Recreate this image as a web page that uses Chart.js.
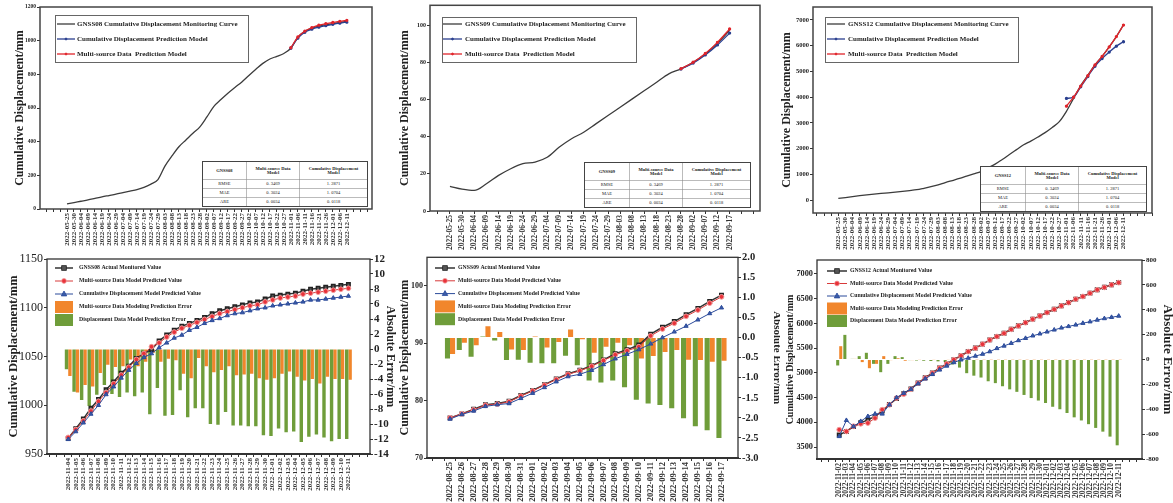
<!DOCTYPE html>
<html>
<head>
<meta charset="utf-8">
<script src="https://cdn.jsdelivr.net/npm/chart.js@4.4.0/dist/chart.umd.min.js"></script>
<style>
  body { margin: 0; background: #fff; }
  #page { position: relative; width: 1173px; height: 503px; overflow: hidden; background: #fff; }
  canvas { position: absolute; }
  .clip { position: absolute; overflow: hidden; }
  .stat { position: absolute; border-collapse: collapse; transform: scale(0.5); transform-origin: 0 0;
          font-family: "Liberation Serif", serif; color: #222; background: #fff; border: 2px solid #444; }
  .stat td { border: 1px solid #777; text-align: center; font-size: 9px; padding: 0; line-height: 1.05; }
  .stat tr.h td { font-weight: bold; height: 34px; }
  .stat tr.r td { height: 17px; }
</style>
</head>
<body>
<div id="page">
  <canvas id="c1" width="390" height="250" style="left:0;top:0"></canvas>
  <canvas id="c2" width="390" height="250" style="left:390px;top:0"></canvas>
  <canvas id="c3" width="393" height="250" style="left:780px;top:0"></canvas>
  <canvas id="c4" width="400" height="253" style="left:0;top:250px"></canvas>
  <div class="clip" style="left:390px;top:250px;width:390px;height:253px">
    <canvas id="c5" width="395" height="253" style="left:0;top:0"></canvas>
  </div>
  <canvas id="c6" width="395" height="253" style="left:780px;top:250px"></canvas>
</div>
<script>
// ---- dates (x categories) ----
const topDays = ["05-25","05-30","06-04","06-09","06-14","06-19","06-24","06-29","07-04","07-09",
  "07-14","07-19","07-24","07-29","08-03","08-08","08-13","08-18","08-23","08-28",
  "09-02","09-07","09-12","09-17","09-22","09-27","10-02","10-07","10-12","10-17",
  "10-22","10-27","11-01","11-06","11-11","11-16","11-21","11-26","12-01","12-06","12-11"];
const p4Days = ["11-04","11-05","11-06","11-07","11-08","11-09","11-10","11-11","11-12","11-13",
  "11-14","11-15","11-16","11-17","11-18","11-19","11-20","11-21","11-22","11-23",
  "11-24","11-25","11-26","11-27","11-28","11-29","11-30","12-01","12-02","12-03",
  "12-04","12-05","12-06","12-07","12-08","12-09","12-10","12-11"];
const p5Days = ["08-25","08-26","08-27","08-28","08-29","08-30","08-31","09-01","09-02","09-03",
  "09-04","09-05","09-06","09-07","09-08","09-09","09-10","09-11","09-12","09-13",
  "09-14","09-15","09-16","09-17"];
const p6Days = ["11-02","11-03","11-04","11-05","11-06","11-07","11-08","11-09","11-10","11-11",
  "11-12","11-13","11-14","11-15","11-16","11-17","11-18","11-19","11-20","11-21",
  "11-22","11-23","11-24","11-25","11-26","11-27","11-28","11-29","11-30","12-01",
  "12-02","12-03","12-04","12-05","12-06","12-07","12-08","12-09","12-10","12-11"];
const withYear = d => "2022-" + d;
const p1Dates = topDays.map(withYear);
const p2Dates = topDays.slice(0, 24).map(withYear);
const p3Dates = topDays.map(withYear);
const p4Dates = p4Days.map(withYear);
const p5Dates = p5Days.map(withYear);
const p6Dates = p6Days.map(withYear);

// ---- top row: monitoring curves ----
const p1Actual = [30,38,46,54,63,72,80,88,97,106,115,128,148,175,255,315,370,410,450,488,
  547,610,650,688,722,755,793,830,865,891,907,924,955,1020,1055,1075,1087,1094,1101,1108,1115];
const p1PredStart = 32;
const p1Red = [958,1022,1057,1078,1092,1101,1108,1115,1121];
const p1Blue = [955,1015,1050,1068,1080,1089,1097,1104,1110];

const p2Actual = [13.3,11.8,11.1,14.7,19.2,22.8,25.5,26.4,29.0,34.5,39.0,42.5,47.0,51.5,56.0,
  60.5,65.0,69.5,74.0,76.7,80.2,84.7,90.5,97.5];
const p2PredStart = 19;
const p2Red = [76.8,80.3,85.0,91.0,98.2];
const p2Blue = [76.6,79.8,84.2,89.6,96.0];

const p3Actual = [65,100,140,175,205,235,260,285,310,340,370,405,460,520,590,680,760,840,930,1020,
  1110,1260,1400,1580,1770,1960,2150,2290,2450,2620,2820,3050,3450,3950,4450,4850,5250,5580,5950,6350,6800];
const p3PredStart = 32;
const p3Red = [3650,4000,4430,4830,5250,5580,5950,6350,6800];
const p3Blue = [3950,4000,4400,4800,5200,5500,5750,5980,6150];

// ---- bottom row: prediction periods ----
const p4Actual = [966,976,986,997,1006,1016,1024,1033,1040,1048,1053,1057,1066,1072,1077,1081,1084,1087,1090,1094,
  1097,1099,1101,1103,1105,1106,1109,1112,1113,1114,1115,1117,1119,1120,1121,1122,1123,1124];
const p4Red = [967,975,984,994,1004,1013,1022,1031,1039,1047,1053,1060,1064,1070,1075,1079,1082,1085,1088,1091,
  1094,1096,1098,1100,1102,1103,1106,1108,1110,1111,1112,1114,1115,1116,1117,1118,1119,1120];
const p4Blue = [965,973,982,991,1000,1011,1019,1028,1036,1043,1049,1053,1059,1064,1069,1072,1077,1080,1084,1087,
  1089,1092,1094,1095,1097,1099,1100,1102,1103,1104,1105,1106,1108,1108,1109,1110,1111,1112];
const p4ErrMulti = [-3.6,-5.8,-4.8,-5.0,-3.2,-2.1,-2.4,-2.3,-1.4,-2.3,-1.7,-0.5,-1.7,-1.3,-1.5,-3.3,-3.9,-1.2,-2.3,-3.1,
  -2.8,-2.3,-3.5,-3.4,-3.3,-3.9,-4.1,-3.9,-3.3,-3.0,-3.7,-4.2,-4.0,-4.6,-3.7,-4.0,-4.0,-4.1];
const p4ErrDisp = [-2.7,-5.7,-6.8,-7.6,-6.1,-4.8,-6.0,-6.4,-5.8,-6.3,-5.8,-8.7,-5.2,-8.9,-8.8,-5.5,-9.1,-7.9,-7.9,-10.0,
  -10.1,-8.4,-10.2,-10.2,-10.3,-10.3,-11.5,-11.6,-10.6,-11.1,-11.0,-12.4,-11.7,-11.4,-11.8,-12.3,-12.0,-12.0];

const p5Actual = [77.0,77.7,78.5,79.3,79.5,79.9,80.9,81.8,82.8,83.8,84.7,85.3,86.1,87.1,88.2,88.9,89.7,91.6,92.8,93.8,95.0,96.1,97.3,98.4];
const p5Red = [77.0,77.7,78.4,79.2,79.4,79.8,80.8,81.7,82.7,83.7,84.6,85.2,86.0,87.0,88.0,88.7,89.4,91.3,92.5,93.5,94.7,95.8,97.0,98.1];
const p5Blue = [76.8,77.6,78.2,79.0,79.3,79.5,80.4,81.3,82.3,83.3,84.2,84.6,85.3,86.3,87.3,88.1,88.9,89.9,91.0,92.0,93.0,94.1,95.2,96.2];
const p5ErrMulti = [-0.41,-0.13,-0.19,0.28,0.14,-0.30,-0.31,0.03,-0.25,-0.11,0.20,-0.04,-0.38,-0.23,-0.13,-0.19,-0.52,-0.46,-0.36,-0.31,-0.55,-0.56,-0.60,-0.58];
const p5ErrDisp = [-0.52,-0.31,-0.48,0.03,-0.07,-0.56,-0.55,-0.63,-0.64,-0.64,-0.45,-0.69,-1.07,-1.12,-1.07,-1.24,-1.55,-1.64,-1.68,-1.76,-2.01,-2.21,-2.31,-2.50];

const p6Actual = [3745,3815,3915,3990,4050,4120,4230,4360,4480,4580,4675,4795,4900,4998,5098,5183,5268,5347,5432,5502,
  5582,5667,5737,5802,5882,5952,6017,6087,6152,6222,6287,6357,6422,6492,6547,6612,6682,6732,6782,6827];
const p6Red = [3850,3815,3920,3970,3985,4085,4255,4355,4490,4570,4670,4792,4897,4996,5095,5181,5266,5345,5430,5500,
  5580,5665,5735,5800,5880,5950,6015,6085,6150,6220,6285,6355,6420,6490,6545,6610,6680,6730,6780,6825];
const p6Blue = [3715,4040,3915,4020,4120,4170,4170,4355,4500,4590,4670,4780,4880,4970,5060,5140,5210,5265,5300,5340,
  5380,5430,5495,5545,5600,5655,5700,5750,5790,5830,5870,5910,5940,5970,6005,6035,6070,6100,6125,6150];
const p6ErrMulti = [107,0,5,-21,-70,-35,27,-5,10,-10,-5,-3,-4,-3,-4,-3,-3,-2,-2,-2,
  -2,-2,-2,-2,-2,-2,-2,-2,-2,-2,-2,-2,-2,-2,-2,-2,-2,-2,-2,-2];
const p6ErrDisp = [-48,198,5,27,54,-35,-102,-35,27,19,-5,-8,-10,-12,-15,-20,-40,-65,-110,-130,
  -145,-175,-190,-215,-240,-260,-285,-310,-330,-350,-380,-400,-430,-465,-490,-520,-550,-580,-620,-690];

// ---- tick values ----
const p1YTicks = [0,200,400,600,800,1000,1200];
const p2YTicks = [0,20,40,60,80,100];
const p3YTicks = [0,1000,2000,3000,4000,5000,6000,7000];
const p4YTicks = [950,1000,1050,1100,1150];
const p4ErrTicks = [-14,-12,-10,-8,-6,-4,-2,0,2,4,6,8,10,12];
const p5YTicks = [70,80,90,100];
const p5ErrTicks = [-3,-2.5,-2,-1.5,-1,-0.5,0,0.5,1,1.5,2];
const p6YTicks = [3500,4000,4500,5000,5500,6000,6500,7000];
const p6ErrTicks = [-800,-600,-400,-200,0,200,400,600,800];

// ---- error tables ----
const statHead = ["Multi-source Data<br>Model", "Cumulative Displacement<br>Model"];
const statRows = [["RMSE","0. 3469","1. 2871"],["MAE","0. 3024","1. 0704"],["ARE","0. 0034","0. 0118"]];

const SERIF = '"Liberation Serif", "Times New Roman", serif';
const INK = '#222';
Chart.defaults.font.family = SERIF;
Chart.defaults.color = INK;

function pts(values, start) {
  return values.map((v, i) => ({ x: i + (start || 0), y: v }));
}

function drawMarker(ctx, style, x, y, r, fill, stroke) {
  ctx.beginPath();
  if (style === 'rect') ctx.rect(x - r, y - r, 2 * r, 2 * r);
  else if (style === 'triangle') {
    ctx.moveTo(x, y - r * 1.25); ctx.lineTo(x + r * 1.15, y + r * 0.8); ctx.lineTo(x - r * 1.15, y + r * 0.8); ctx.closePath();
  } else ctx.arc(x, y, r, 0, Math.PI * 2);
  ctx.fillStyle = fill; ctx.fill();
  ctx.lineWidth = 0.8; ctx.strokeStyle = stroke; ctx.stroke();
}

// box round the plot area
const framePlugin = {
  id: 'frame',
  afterDraw(chart, args, o) {
    const { left, top, right, bottom } = chart.chartArea;
    const ctx = chart.ctx;
    ctx.save();
    ctx.strokeStyle = o.color; ctx.lineWidth = o.width;
    ctx.strokeRect(left, top, right - left, bottom - top);
    if (o.bottomWidth) {
      ctx.lineWidth = o.bottomWidth;
      ctx.beginPath(); ctx.moveTo(left - 1, bottom); ctx.lineTo(right + 1, bottom); ctx.stroke();
    }
    ctx.restore();
  }
};

// legend drawn inside the plot, like the origin figures
const legendPlugin = {
  id: 'boxLegend',
  afterDraw(chart, args, o) {
    const ctx = chart.ctx;
    ctx.save();
    if (o.box) {
      ctx.strokeStyle = '#666'; ctx.lineWidth = 1;
      ctx.strokeRect(o.box[0] + 0.5, o.box[1] + 0.5, o.box[2], o.box[3]);
    }
    ctx.font = o.font; ctx.textBaseline = 'middle'; ctx.textAlign = 'left';
    chart.data.datasets.forEach((ds, k) => {
      const y = o.y + k * o.gap;
      if (ds.type === 'bar') {
        ctx.fillStyle = ds.backgroundColor;
        ctx.fillRect(o.x, y - o.barH / 2, o.w, o.barH);
      } else {
        ctx.strokeStyle = ds.borderColor; ctx.lineWidth = ds.borderWidth;
        ctx.beginPath(); ctx.moveTo(o.x, y); ctx.lineTo(o.x + o.w, y); ctx.stroke();
        if (ds.pointRadius > 0)
          drawMarker(ctx, ds.pointStyle, o.x + o.w / 2, y, o.markR || ds.pointRadius, ds.pointBackgroundColor, ds.pointBorderColor);
      }
      ctx.fillStyle = INK;
      ctx.fillText(ds.label, o.x + o.w + o.textGap, y);
    });
    ctx.restore();
  }
};

function xAxis(min, max, labels, size, h) {
  return {
    type: 'linear', min, max, offset: false,
    afterBuildTicks: s => { s.ticks = []; for (let v = Math.ceil(min); v <= max; v++) s.ticks.push({ value: v }); },
    afterFit: s => { s.height = h; },
    grid: { drawOnChartArea: false, tickLength: 3, color: '#333' },
    border: { display: false },
    ticks: { autoSkip: false, minRotation: 90, maxRotation: 90, padding: 1,
      font: { size, weight: 'bold' }, color: '#333', callback: v => labels[v] || '' },
  };
}

function yAxis(position, min, max, tickVals, w, tick, title) {
  return {
    type: 'linear', position, min, max,
    afterBuildTicks: s => { s.ticks = tickVals.map(value => ({ value })); },
    afterFit: s => { s.width = w; },
    grid: { drawOnChartArea: false, tickLength: 3, color: '#333' },
    border: { display: false },
    ticks: { autoSkip: false, padding: 1, font: { size: tick.size, weight: tick.weight }, color: INK,
      callback: v => v.toFixed(tick.dec || 0) },
    title: { display: true, text: title.text, color: INK, font: { size: title.size, weight: 'bold' },
      padding: { top: title.pad, bottom: 0 } },
  };
}

function makeChart(id, datasets, scales, padding, legend, frame) {
  return new Chart(document.getElementById(id), {
    type: 'line',
    data: { datasets },
    options: {
      responsive: false, animation: false, events: [],
      layout: { padding },
      scales,
      plugins: { legend: { display: false }, tooltip: { enabled: false }, boxLegend: legend, frame },
    },
    plugins: [framePlugin, legendPlugin],
  });
}

const GRAY = '#3c3c3c', BLUE = '#2a3f8f', RED = '#e0252b', ORANGE = '#f1862c', GREEN = '#6f9d3a';

function topSets(station, actual, red, blue, start) {
  return [
    { label: station + ' Cumulative Displacement Monitoring Curve', data: pts(actual), borderColor: GRAY,
      borderWidth: 1.3, pointRadius: 0, cubicInterpolationMode: 'monotone', order: 3 },
    { label: 'Cumulative Displacement Prediction Model', data: pts(blue, start), borderColor: BLUE,
      borderWidth: 1.3, pointRadius: 1, pointStyle: 'circle', pointBackgroundColor: BLUE, pointBorderColor: BLUE,
      cubicInterpolationMode: 'monotone', order: 2 },
    { label: 'Multi-source Data  Prediction Model', data: pts(red, start), borderColor: RED,
      borderWidth: 1.3, pointRadius: 1, pointStyle: 'circle', pointBackgroundColor: RED, pointBorderColor: RED,
      cubicInterpolationMode: 'monotone', order: 1 },
  ];
}

function bottomSets(station, actual, red, blue, errMulti, errDisp, barPct) {
  return [
    { label: station + ' Actual Monitored Value', data: pts(actual), borderColor: '#333', borderWidth: 1.5,
      pointRadius: 2.4, pointStyle: 'rect', pointBackgroundColor: '#555', pointBorderColor: '#222', order: 2, yAxisID: 'y' },
    { label: 'Multi-source Data Model Predicted Value', data: pts(red), borderColor: '#d83a3a', borderWidth: 1,
      pointRadius: 2.4, pointStyle: 'circle', pointBackgroundColor: '#e8323a', pointBorderColor: '#f29a9a', order: 1, yAxisID: 'y' },
    { label: 'Cumulative Displacement Model Predicted Value', data: pts(blue), borderColor: '#2b4a9a', borderWidth: 1,
      pointRadius: 2.4, pointStyle: 'triangle', pointBackgroundColor: '#3a5ca8', pointBorderColor: '#2b4a9a', order: 0, yAxisID: 'y' },
    { type: 'bar', label: 'Multi-source Data Modeling Prediction Error', data: pts(errMulti), backgroundColor: ORANGE,
      categoryPercentage: barPct, barPercentage: 1, order: 5, yAxisID: 'y1' },
    { type: 'bar', label: 'Displacement Data Model Prediction Error', data: pts(errDisp), backgroundColor: GREEN,
      categoryPercentage: barPct, barPercentage: 1, order: 4, yAxisID: 'y1' },
  ];
}

const CUM = 'Cumulative Displacement/mm', ERR = 'Absolute Error/mm';
const topLegendFont = 'bold 7px ' + SERIF, botLegendFont = 'bold 5.8px ' + SERIF;
const topFrame = { color: '#444', width: 1.5 };
const botFrame = { color: '#333', width: 1.3, bottomWidth: 2 };

// ---- top row ----
makeChart('c1', topSets('GNSS08', p1Actual, p1Red, p1Blue, p1PredStart), {
  x: xAxis(-3.86, 43.6, p1Dates, 7, 41),
  y: yAxis('left', 0, 1200, p1YTicks, 40, { size: 5.5, weight: 'bold' }, { text: CUM, size: 12, pad: 12.8 }),
}, { top: 7, right: 18, left: 0, bottom: 0 },
{ box: [55, 15, 193, 47], x: 57, y: 24, gap: 15, w: 18, textGap: 2, font: topLegendFont }, topFrame);

makeChart('c2', topSets('GNSS09', p2Actual, p2Red, p2Blue, p2PredStart), {
  x: xAxis(-1.64, 25.5, p2Dates, 7.5, 39),
  y: yAxis('left', 0, 111, p2YTicks, 40, { size: 6, weight: 'bold' }, { text: CUM, size: 12, pad: 7.8 }),
}, { top: 5, right: 20, left: 0, bottom: 0 },
{ box: [52, 17, 194, 45], x: 53, y: 24, gap: 15, w: 19, textGap: 3, font: topLegendFont }, topFrame);

makeChart('c3', topSets('GNSS12', p3Actual, p3Red, p3Blue, p3PredStart), {
  x: xAxis(-3.55, 44.0, p3Dates, 7, 37),
  y: yAxis('left', -500, 7500, p3YTicks, 33, { size: 6.5, weight: 'bold' }, { text: CUM, size: 12, pad: 0 }),
}, { top: 7, right: 21, left: 0, bottom: 0 },
{ box: [45, 17, 193, 45], x: 47, y: 24, gap: 15, w: 18, textGap: 3, font: topLegendFont }, topFrame);

// ---- bottom row ----
makeChart('c4', bottomSets('GNSS08', p4Actual, p4Red, p4Blue, p4ErrMulti, p4ErrDisp, 0.9), {
  x: xAxis(-2.8, 39.85, p4Dates, 7, 49),
  y: yAxis('left', 950, 1150, p4YTicks, 47, { size: 12, weight: 'normal' }, { text: CUM, size: 12.5, pad: 5.8 }),
  y1: yAxis('right', -14, 12, p4ErrTicks, 30, { size: 11, weight: 'bold' }, { text: ERR, size: 12, pad: 2.8 }),
}, { top: 9, right: 0, left: 0, bottom: 0 },
{ x: 55, y: 18, gap: 13, w: 18, barH: 12, textGap: 6, font: botLegendFont }, botFrame);

makeChart('c5', bottomSets('GNSS09', p5Actual, p5Red, p5Blue, p5ErrMulti, p5ErrDisp, 0.86), {
  x: xAxis(-1.95, 24.4, p5Dates, 8.5, 45),
  y: yAxis('left', 70, 105, p5YTicks, 37, { size: 8, weight: 'bold' }, { text: CUM, size: 12, pad: 7.8 }),
  y1: yAxis('right', -3, 2, p5ErrTicks, 47, { size: 10.5, weight: 'bold', dec: 1 }, { text: ERR, size: 11, pad: 1.4 }),
}, { top: 7, right: 0, left: 0, bottom: 0 },
{ x: 45, y: 18, gap: 12.8, w: 20, barH: 12, textGap: 3, font: botLegendFont }, botFrame);

makeChart('c6', bottomSets('GNSS12', p6Actual, p6Red, p6Blue, p6ErrMulti, p6ErrDisp, 0.85), {
  x: xAxis(-3.1, 42.25, p6Dates, 7.5, 44),
  y: yAxis('left', 3258, 7283, p6YTicks, 37, { size: 8.3, weight: 'bold' }, { text: CUM, size: 10, pad: 4 }),
  y1: yAxis('right', -800, 800, p6ErrTicks, 33, { size: 7, weight: 'bold' }, { text: ERR, size: 13, pad: 0 }),
}, { top: 10, right: 0, left: 0, bottom: 0 },
{ x: 47, y: 21, gap: 12.5, w: 20, barH: 12, textGap: 3, font: botLegendFont }, botFrame);

// ---- error tables over the top charts ----
function statTable(station, left, top, w, h, cols) {
  const t = document.createElement('table');
  t.className = 'stat';
  t.style.left = left + 'px'; t.style.top = top + 'px';
  t.style.width = (w * 2) + 'px'; t.style.height = (h * 2) + 'px';
  let html = '<colgroup>' + cols.map(c => '<col style="width:' + c * 2 + 'px">').join('') + '</colgroup>';
  html += '<tr class="h"><td>' + station + '</td><td>' + statHead[0] + '</td><td>' + statHead[1] + '</td></tr>';
  statRows.forEach(r => { html += '<tr class="r"><td>' + r.join('</td><td>') + '</td></tr>'; });
  t.innerHTML = html;
  document.getElementById('page').appendChild(t);
}
statTable('GNSS08', 202, 161, 166, 44, [44, 54, 68]);
statTable('GNSS09', 584, 162, 167, 45, [45, 54, 68]);
statTable('GNSS12', 980, 166, 167, 43, [45, 54, 68]);
</script>
</body>
</html>
